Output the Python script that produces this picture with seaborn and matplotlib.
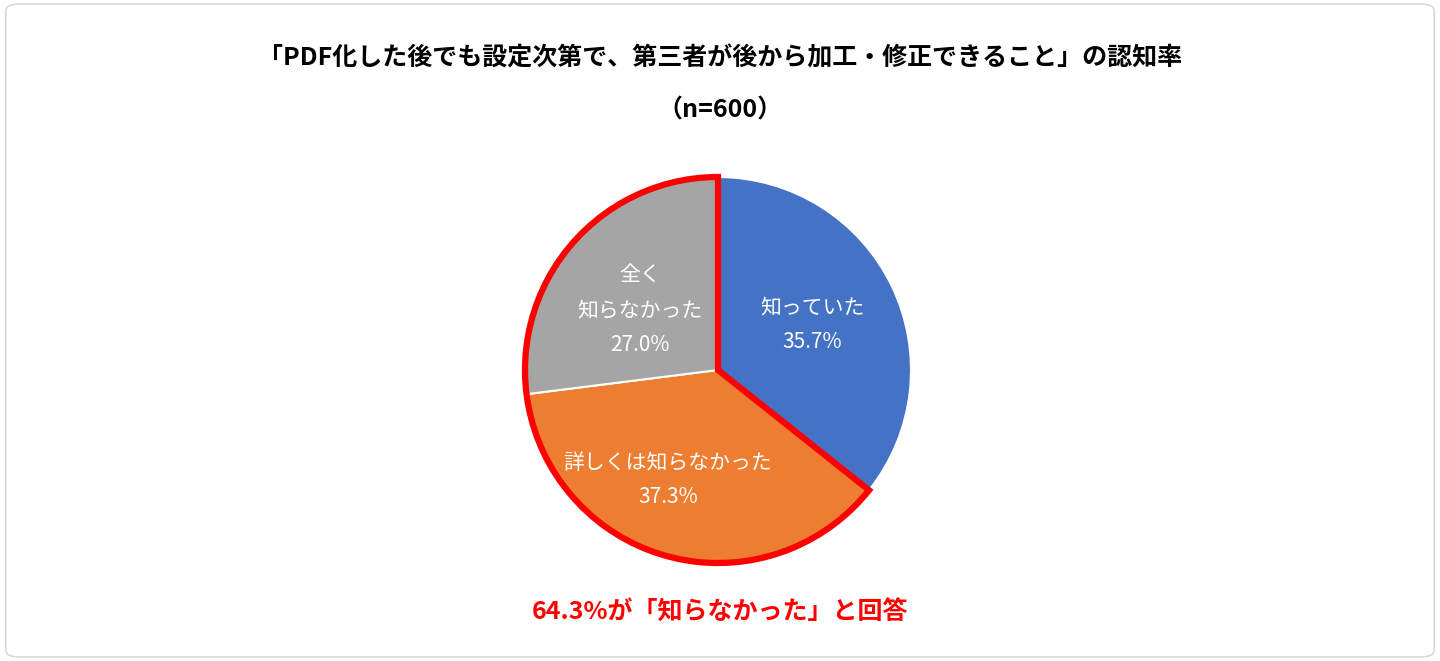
import matplotlib
matplotlib.use("Agg")
import matplotlib.pyplot as plt
from matplotlib.patches import Wedge, FancyBboxPatch
import seaborn as sns

categories = ["知っていた", "詳しくは知らなかった", "全く\n知らなかった"]
values = [35.7, 37.3, 27.0]
colors = ["#4472C4", "#ED7D31", "#A5A5A5"]
title = "「PDF化した後でも設定次第で、第三者が後から加工・修正できること」の認知率"
subtitle = "（n=600）"
footer = "64.3%が「知らなかった」と回答"

sns.set_theme(style="white")
plt.rcParams['font.family'] = ['Noto Sans CJK JP', 'DejaVu Sans']

fig = plt.figure(figsize=(14.4, 6.61), dpi=100)
fig.patches.append(FancyBboxPatch((0.004, 0.006), 0.992, 0.988, boxstyle="round,pad=0,rounding_size=0.01",
                                  transform=fig.transFigure, fill=False, ec="#D9D9D9", lw=1.2))

R = 193
cx, cy = 718, 370
size = 2 * R * 1.1
ax = fig.add_axes([(cx - size / 2) / 1440, 1 - (cy + size / 2) / 661, size / 1440, size / 661])
ax.pie(values, colors=colors, startangle=90, counterclock=False, radius=1,
       wedgeprops=dict(edgecolor="white", linewidth=1.5))
ax.add_patch(Wedge((0, 0), 1, 90, 90 + 360 - values[0] * 3.6, fill=False, ec="#FF0000", lw=4.5, zorder=5))
ax.set_xlim(-1.1, 1.1)
ax.set_ylim(-1.1, 1.1)
ax.set_aspect("equal")
ax.axis("off")

def px(x, y):
    return (x - cx) / R, (cy - y) / R

label_pos = [(812, 325), (668, 480), (640, 310)]
for cat, v, (lx, ly) in zip(categories, values, label_pos):
    x, y = px(lx, ly)
    ax.text(x, y, f"{cat}\n{v:.1f}%", ha="center", va="center", color="white",
            fontsize=15, linespacing=1.75, zorder=6)

fig.text(0.5, 1 - 58 / 661, title, ha="center", va="center", fontsize=18, fontweight="bold", color="black")
fig.text(0.5, 1 - 110 / 661, subtitle, ha="center", va="center", fontsize=18, fontweight="bold", color="black")
fig.text(0.5, 1 - 612 / 661, footer, ha="center", va="center", fontsize=18, fontweight="bold", color="#FF0000")

fig.savefig("out.png", dpi=100)
